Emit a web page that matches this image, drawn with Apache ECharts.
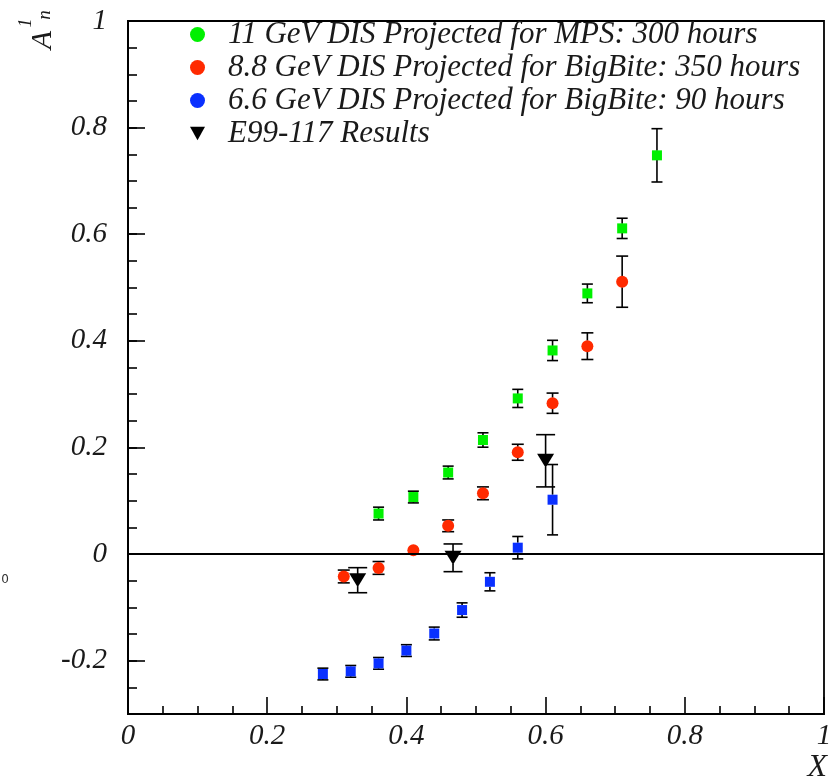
<!DOCTYPE html>
<html>
<head>
<meta charset="utf-8">
<script src="https://cdn.jsdelivr.net/npm/echarts@6/dist/echarts.min.js"></script>
<style>
  html, body { margin: 0; padding: 0; background: #fff; }
  #chart { width: 838px; height: 780px; }
</style>
</head>
<body>
<div id="chart"></div>
<script>
// series names
const names = [
  '11 GeV DIS Projected for MPS: 300 hours',
  '8.8 GeV DIS Projected for BigBite: 350 hours',
  '6.6 GeV DIS Projected for BigBite: 90 hours',
  'E99-117 Results'
]

// 11 GeV (green)
const x11 = [0.36, 0.41, 0.46, 0.51, 0.56, 0.61, 0.66, 0.71, 0.76]
const y11 = [0.076, 0.107, 0.153, 0.214, 0.292, 0.382, 0.489, 0.611, 0.748]
const e11 = [0.012, 0.011, 0.012, 0.0135, 0.017, 0.019, 0.0175, 0.019, 0.05]

// 8.8 GeV (red)
const x88 = [0.31, 0.36, 0.41, 0.46, 0.51, 0.56, 0.61, 0.66, 0.71]
const y88 = [-0.042, -0.026, 0.007, 0.053, 0.114, 0.191, 0.283, 0.39, 0.511]
const e88 = [0.012, 0.012, 0.006, 0.011, 0.012, 0.015, 0.019, 0.025, 0.048]

// 6.6 GeV (blue)
const x66 = [0.28, 0.32, 0.36, 0.40, 0.44, 0.48, 0.52, 0.56, 0.61]
const y66 = [-0.225, -0.22, -0.205, -0.181, -0.149, -0.105, -0.052, 0.012, 0.102]
const e66 = [0.011, 0.011, 0.011, 0.011, 0.012, 0.0135, 0.017, 0.021, 0.066]

// E99-117 (black)
const xE = [0.33, 0.467, 0.60]
const yE = [-0.049, -0.007, 0.175]
const eE = [0.0235, 0.026, 0.049]

const yMajor = [-0.2, 0, 0.2, 0.4, 0.6, 0.8, 1]

const serif = 'Liberation Serif'
const colors = ['#00f000', '#ff2a00', '#0a30ff', '#000000']

function pts (xs, ys) {
  return xs.map((x, i) => [x, ys[i]])
}
function errs (xs, ys, es) {
  return xs.map((x, i) => [x, ys[i], es[i]])
}

// error bars drawn ROOT style: nothing inside the marker, caps at the ends
function errorBars (capHalf, markerHalf) {
  return function (params, api) {
    const x = api.value(0)
    const y = api.value(1)
    const e = api.value(2)
    const c = api.coord([x, y])
    const top = api.coord([x, y + e])[1]
    const bot = api.coord([x, y - e])[1]
    const children = []
    const st = { stroke: '#000', lineWidth: 1.6 }
    if (c[1] - top > markerHalf) {
      children.push({ type: 'line', shape: { x1: c[0], y1: c[1] - markerHalf, x2: c[0], y2: top }, style: st })
      children.push({ type: 'line', shape: { x1: c[0] - capHalf, y1: top, x2: c[0] + capHalf, y2: top }, style: st })
    }
    if (bot - c[1] > markerHalf) {
      children.push({ type: 'line', shape: { x1: c[0], y1: c[1] + markerHalf, x2: c[0], y2: bot }, style: st })
      children.push({ type: 'line', shape: { x1: c[0] - capHalf, y1: bot, x2: c[0] + capHalf, y2: bot }, style: st })
    }
    return { type: 'group', children: children }
  }
}

function errSeries (data, capHalf, markerHalf) {
  return {
    type: 'custom',
    xAxisIndex: 0,
    yAxisIndex: 1,
    renderItem: errorBars(capHalf, markerHalf),
    data: data,
    z: 1,
    silent: true,
    animation: false,
    encode: { x: 0, y: [1, 2] }
  }
}

const chart = echarts.init(document.getElementById('chart'))

const option = {
  animation: false,
  backgroundColor: '#fff',
  grid: {
    left: 128, right: 14, top: 21, bottom: 66,
    outerBoundsMode: 'none',
    containLabel: false,
    show: true, borderColor: '#000', borderWidth: 1.8
  },
  legend: {
    orient: 'vertical',
    left: 190,
    top: 19,
    padding: 0,
    itemWidth: 15,
    itemHeight: 15,
    itemGap: 2,
    selectedMode: false,
    itemStyle: { opacity: 1 },
    textStyle: {
      fontFamily: serif, fontStyle: 'italic', fontSize: 31, color: '#1a1a1a',
      padding: [0, 0, 0, 18]
    },
    data: [
      { name: names[0], icon: 'circle' },
      { name: names[1], icon: 'circle' },
      { name: names[2], icon: 'circle' },
      { name: names[3], icon: 'path://M0,0 L10,0 L5,9 Z' }
    ]
  },
  xAxis: {
    type: 'value',
    min: 0, max: 1, interval: 0.2,
    axisLine: { onZero: false, lineStyle: { color: '#000', width: 1.8 } },
    axisTick: { inside: true, length: 17, lineStyle: { color: '#000', width: 1.6 } },
    minorTick: { show: true, splitNumber: 4, length: 8, lineStyle: { color: '#000', width: 1.6 } },
    splitLine: { show: false },
    axisLabel: {
      margin: 8, fontFamily: serif, fontStyle: 'italic', fontSize: 29, color: '#1a1a1a',
      formatter: v => String(v)
    },
    name: 'X',
    nameLocation: 'end',
    nameGap: 3,
    nameTextStyle: {
      fontFamily: serif, fontStyle: 'italic', fontSize: 32, color: '#1a1a1a',
      align: 'right', verticalAlign: 'top', padding: [38, 0, 0, 0]
    }
  },
  yAxis: [
    {
      // minor ticks every 0.05
      type: 'value',
      min: -0.3, max: 1, interval: 0.05,
      axisLine: { show: true, onZero: false, lineStyle: { color: '#000', width: 1.8 } },
      axisTick: { inside: true, length: 9, lineStyle: { color: '#000', width: 1.6 } },
      axisLabel: { show: false },
      splitLine: { show: false }
    },
    {
      // major ticks and labels
      type: 'value',
      position: 'left',
      min: -0.3, max: 1,
      axisLine: { show: true, onZero: false, lineStyle: { color: '#000', width: 1.8 } },
      axisTick: { inside: true, length: 17, customValues: yMajor, lineStyle: { color: '#000', width: 1.6 } },
      axisLabel: {
        customValues: yMajor, margin: 21,
        fontFamily: serif, fontStyle: 'italic', fontSize: 29, color: '#1a1a1a',
        formatter: v => String(Math.round(v * 10) / 10)
      },
      splitLine: { show: false }
    }
  ],
  graphic: [
    { type: 'text', x: 43, y: 40, rotation: Math.PI / 2,
      style: { text: 'A', font: 'italic 30px "Liberation Serif"', fill: '#1a1a1a', align: 'center', verticalAlign: 'middle' } },
    { type: 'text', x: 26, y: 23, rotation: Math.PI / 2,
      style: { text: '1', font: 'italic 18px "Liberation Serif"', fill: '#1a1a1a', align: 'center', verticalAlign: 'middle' } },
    { type: 'text', x: 45, y: 15, rotation: Math.PI / 2,
      style: { text: 'n', font: 'italic 19px "Liberation Serif"', fill: '#1a1a1a', align: 'center', verticalAlign: 'middle' } },
    { type: 'text', x: 5, y: 580,
      style: { text: '0', font: '12px "DejaVu Sans"', fill: '#333', align: 'center', verticalAlign: 'middle' } }
  ],
  series: [
    errSeries(errs(x11, y11, e11), 5.5, 4.5),
    errSeries(errs(x88, y88, e88), 6, 5.5),
    errSeries(errs(x66, y66, e66), 5.5, 5),
    errSeries(errs(xE, yE, eE), 9.5, 6),
    {
      name: names[0], type: 'scatter', yAxisIndex: 1, symbol: 'rect', symbolSize: [10, 10],
      itemStyle: { color: colors[0], opacity: 1 }, data: pts(x11, y11), z: 3,
      markLine: {
        silent: true, symbol: 'none', label: { show: false },
        lineStyle: { color: '#000', width: 1.8, type: 'solid', opacity: 1 },
        data: [{ yAxis: 0 }]
      }
    },
    {
      name: names[1], type: 'scatter', yAxisIndex: 1, symbol: 'circle', symbolSize: 12,
      itemStyle: { color: colors[1], opacity: 1 }, data: pts(x88, y88), z: 3
    },
    {
      name: names[2], type: 'scatter', yAxisIndex: 1, symbol: 'rect', symbolSize: [10, 10],
      itemStyle: { color: colors[2], opacity: 1 }, data: pts(x66, y66), z: 3
    },
    {
      name: names[3], type: 'scatter', yAxisIndex: 1, symbol: 'path://M0,0 L10,0 L5,9 Z', symbolSize: [17, 14],
      itemStyle: { color: colors[3], opacity: 1 }, data: pts(xE, yE), z: 4
    }
  ]
}

chart.setOption(option)
</script>
</body>
</html>
